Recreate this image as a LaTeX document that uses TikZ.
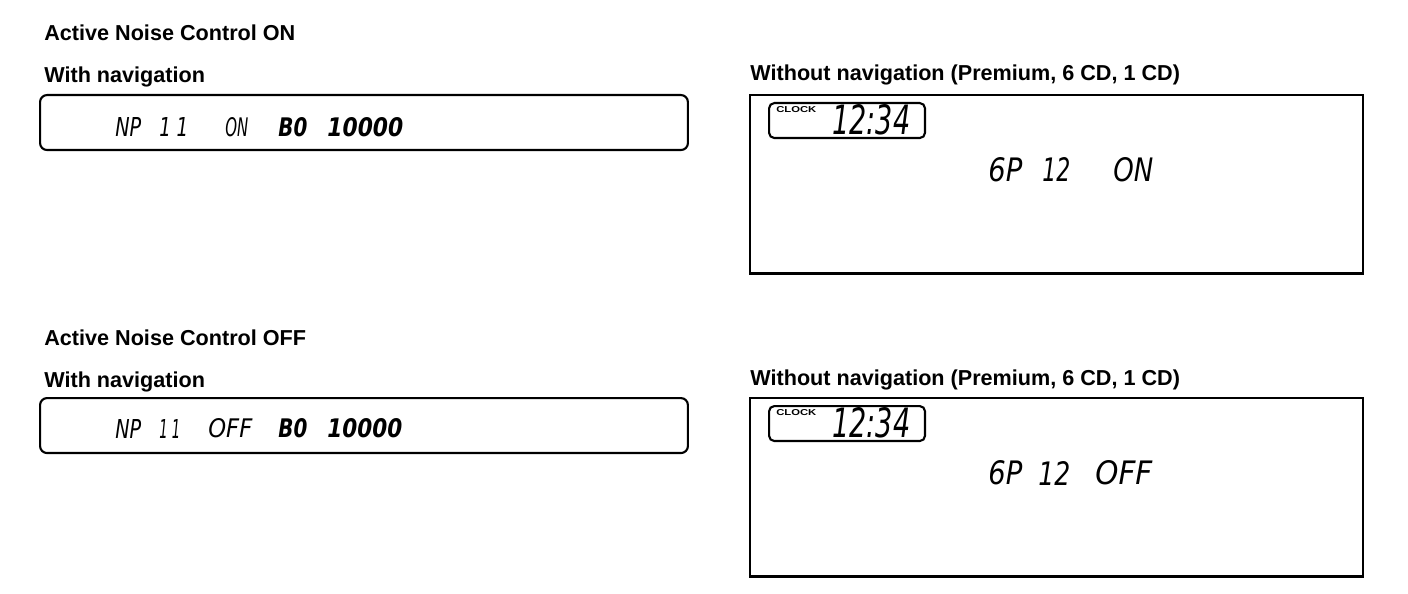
\documentclass[tikz,border=0pt]{standalone}
\usepackage{fontspec}
\usepackage{graphicx}
\setmainfont{Liberation Sans}
\newfontfamily\lcdfont{DejaVu Sans}
\usepackage{tikz}
\usetikzlibrary{positioning}
\newcommand{\lcdtxt}[3]{\resizebox{#1}{#2}{\lcdfont\itshape #3}}
\tikzset{
  title/.style={anchor=base west, inner sep=0pt, font=\fontsize{12.3}{14}\selectfont\bfseries},
  navbox/.style={draw=black, line width=1.2pt, rounded corners=4pt, anchor=north west, minimum width=12.96cm, minimum height=1.1cm, inner sep=0pt},
  plainbox/.style={draw=black, line width=1.3pt, anchor=north west, minimum width=12.26cm, minimum height=3.57cm, inner sep=0pt},
  clockbox/.style={draw=black, line width=1.2pt, rounded corners=3pt, anchor=north west, minimum width=3.12cm, minimum height=0.7cm, inner sep=0pt},
  clocklbl/.style={anchor=west, inner sep=0pt},
  lcd/.style={anchor=west, inner sep=0pt}
}
\begin{document}
\begin{tikzpicture}[x=0.02cm, y=-0.02cm]
  \useasboundingbox (0,0) rectangle (1408,594);

  % Active Noise Control ON
  \node [title] (onhead) at (44,41) {Active Noise Control ON};
  \node [title] (onnav) at (44,83) {With navigation};
  \node [title] (onnonav) at (750,81) {Without navigation (Premium, 6 CD, 1 CD)};

  \node [navbox] (onnavbox) at (39,94) {};
  \node [lcd] (onnp) at (115,127.5) {\lcdtxt{0.52cm}{0.38cm}{NP}};
  \node [lcd] (onnpnum) at (159,127.5) {\lcdtxt{0.58cm}{0.38cm}{1 1}};
  \node [lcd] (onstate) at (225,127.5) {\lcdtxt{0.46cm}{0.38cm}{ON}};
  \node [lcd] (onband) at (278,127.5) {\lcdtxt{0.58cm}{0.38cm}{\bfseries B0}};
  \node [lcd] (onnum) at (327,127.5) {\lcdtxt{1.52cm}{0.38cm}{\bfseries 10000}};

  \node [plainbox] (onnonavbox) at (749,94) {};
  \node [clockbox] (onclock) at (768,102) {};
  \node [clocklbl] (onclocklbl) at (776,110) {\resizebox{0.8cm}{0.12cm}{\bfseries CLOCK}};
  \node [lcd] (ontime) at (832,120) {\lcdtxt{1.56cm}{0.6cm}{12:34}};
  \node [lcd] (ongp) at (988,170) {\lcdtxt{0.68cm}{0.48cm}{6P}};
  \node [lcd] (ongpnum) at (1042,170) {\lcdtxt{0.56cm}{0.48cm}{12}};
  \node [lcd] (ongpstate) at (1113,170) {\lcdtxt{0.8cm}{0.48cm}{ON}};

  % Active Noise Control OFF
  \node [title] (offhead) at (44,345) {Active Noise Control OFF};
  \node [title] (offnav) at (44,387) {With navigation};
  \node [title] (offnonav) at (750,385) {Without navigation (Premium, 6 CD, 1 CD)};

  \node [navbox] (offnavbox) at (39,397) {};
  \node [lcd] (offnp) at (115,428.5) {\lcdtxt{0.52cm}{0.38cm}{NP}};
  \node [lcd] (offnpnum) at (159,428.5) {\lcdtxt{0.42cm}{0.38cm}{1 1}};
  \node [lcd] (offstate) at (208,428.5) {\lcdtxt{0.88cm}{0.38cm}{OFF}};
  \node [lcd] (offband) at (278,428.5) {\lcdtxt{0.58cm}{0.38cm}{\bfseries B0}};
  \node [lcd] (offnum) at (327,428.5) {\lcdtxt{1.5cm}{0.38cm}{\bfseries 10000}};

  \node [plainbox] (offnonavbox) at (749,397) {};
  \node [clockbox] (offclock) at (768,405) {};
  \node [clocklbl] (offclocklbl) at (776,413) {\resizebox{0.8cm}{0.12cm}{\bfseries CLOCK}};
  \node [lcd] (offtime) at (832,423) {\lcdtxt{1.56cm}{0.6cm}{12:34}};
  \node [lcd] (offgp) at (988,473) {\lcdtxt{0.68cm}{0.48cm}{6P}};
  \node [lcd] (offgpnum) at (1038,473) {\lcdtxt{0.64cm}{0.48cm}{12}};
  \node [lcd] (offgpstate) at (1095,473) {\lcdtxt{1.14cm}{0.48cm}{OFF}};
\end{tikzpicture}
\end{document}
